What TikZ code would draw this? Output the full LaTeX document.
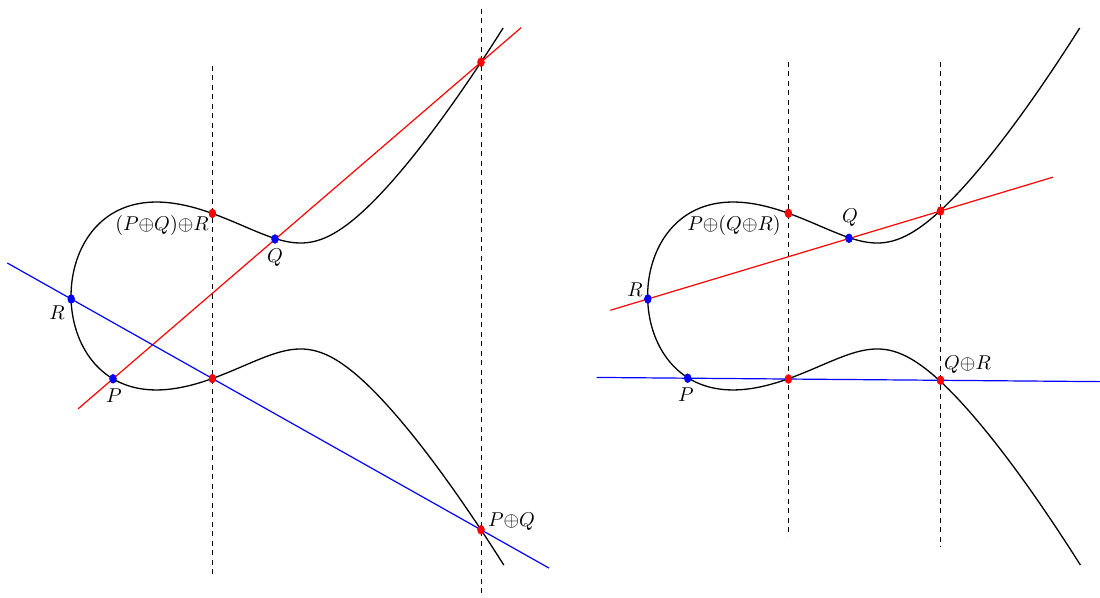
\documentclass[tikz,border=0pt]{standalone}
\usetikzlibrary{calc,shapes.geometric}
\begin{document}
\begin{tikzpicture}[x=0.5pt,y=-0.5pt,
  declare function={ecu(\t)=-2.18387+\t*\t;
    ecf(\t)=max(ecu(\t)*ecu(\t)*ecu(\t)-3*ecu(\t)+3.864,0);
    ecy(\t)=296-ifthenelse(\t>0,1,-1)*38.8*sqrt(ecf(\t));},
  curve/.style={line width=0.65pt,black},
  redline/.style={line width=0.6pt,red},
  blueline/.style={line width=0.6pt,blue},
  vdash/.style={line width=0.7pt,black,dash pattern=on 2.4pt off 2.35pt},
  reddot/.style={ellipse,fill=red,inner sep=0pt,minimum width=3.6pt,minimum height=4.6pt},
  bluedot/.style={ellipse,fill=blue,inner sep=0pt,minimum width=3.6pt,minimum height=4.6pt},
  lbl/.style={inner sep=0pt}]
\useasboundingbox (0,0) rectangle (1100,598);

% ---------- left panel ----------
\draw[curve] plot[domain=-2.45:2.45,samples=301] ({228.5+72.1*ecu(\x)},{ecy(\x)});

\node[bluedot] (P) at (113,378.8) {};
\node[bluedot] (Q) at (275,239) {};
\node[bluedot] (R) at (71.2,299) {};
\node[reddot] (T1) at (481,62.2) {};
\node[reddot] (PQ) at (481,529.8) {};
\node[reddot] (S1) at (212.4,378.6) {};
\node[reddot] (S1r) at (212.4,213.4) {};

\coordinate (v1t) at (212.4,66);
\coordinate (v1b) at (212.4,577);
\coordinate (v2t) at (481.3,9);
\coordinate (v2b) at (481.3,600);
\draw[vdash] (v1t) -- (v1b);
\draw[vdash] (v2t) -- (v2b);

\draw[redline] ($(P)!-0.095!(T1)$) -- ($(P)!1.109!(T1)$);
\draw[blueline] ($(R)!-0.156!(PQ)$) -- ($(R)!1.166!(PQ)$);

\foreach \n in {P,Q,R} \node[bluedot] at (\n) {};
\foreach \n in {T1,PQ,S1,S1r} \node[reddot] at (\n) {};

\node[lbl] (lPQR) at (162,226) {$(P{\oplus}Q){\oplus}R$};
\node[lbl] (lQ) at (275,258) {$Q$};
\node[lbl] (lR) at (57,313) {$R$};
\node[lbl] (lP) at (114,396) {$P$};
\node[lbl] (lPQ) at (511.5,521.5) {$P{\oplus}Q$};

% ---------- right panel ----------
\draw[curve] plot[domain=-2.45:2.45,samples=301] ({805.1+72.1*ecu(\x)},{ecy(\x)});

\node[bluedot] (P2) at (687.7,378.2) {};
\node[bluedot] (Q2) at (849,238.3) {};
\node[bluedot] (R2) at (647.8,299) {};
\node[reddot] (T2) at (940.5,211) {};
\node[reddot] (QR) at (940.5,380.3) {};
\node[reddot] (S2) at (788.4,379) {};
\node[reddot] (S2r) at (788.4,213.3) {};

\coordinate (v3t) at (788.4,62);
\coordinate (v3b) at (788.4,537);
\coordinate (v4t) at (940.5,62);
\coordinate (v4b) at (940.5,547);
\draw[vdash] (v3t) -- (v3b);
\draw[vdash] (v4t) -- (v4b);

\draw[redline] ($(R2)!-0.128!(T2)$) -- ($(R2)!1.384!(T2)$);
\draw[blueline] ($(P2)!-0.36!(QR)$) -- ($(P2)!1.632!(QR)$);

\foreach \n in {P2,Q2,R2} \node[bluedot] at (\n) {};
\foreach \n in {T2,QR,S2,S2r} \node[reddot] at (\n) {};

\node[lbl] (lPQR2) at (734,226) {$P{\oplus}(Q{\oplus}R)$};
\node[lbl] (lQ2) at (850,218) {$Q$};
\node[lbl] (lR2) at (635,290) {$R$};
\node[lbl] (lP2) at (686,395) {$P$};
\node[lbl] (lQR) at (967.5,365) {$Q{\oplus}R$};
\end{tikzpicture}
\end{document}
